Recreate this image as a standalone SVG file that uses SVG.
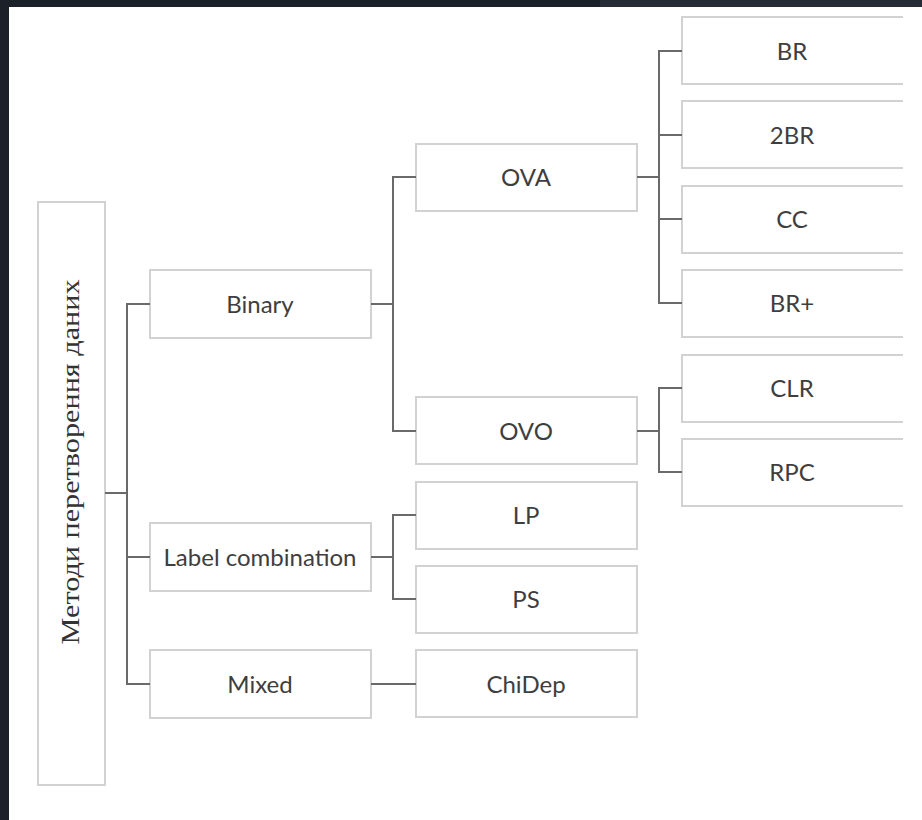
<svg xmlns="http://www.w3.org/2000/svg" width="922" height="820" viewBox="0 0 922 820">
<style>
.bx{fill:#fff;stroke:#d2d2d2;stroke-width:2}
.t{font-family:Lato,"Open Sans","Liberation Sans",sans-serif;font-size:24px;fill:#3e3e3e;text-anchor:middle;dominant-baseline:central}
.c{fill:none;stroke:#6a6a6a;stroke-width:2}
</style>
<rect x="0" y="0" width="922" height="820" fill="#1c2029"/>
<rect x="600" y="0" width="322" height="8" fill="#272b35"/>
<rect x="9" y="7" width="913" height="813" fill="#fff"/>
<g id="root"><rect class="bx" x="38" y="202" width="67" height="583"/>
<text x="0" y="0" transform="translate(79,462) rotate(-90)" font-family="'Liberation Serif','DejaVu Serif',serif" font-size="26" fill="#333" text-anchor="middle" textLength="365" lengthAdjust="spacingAndGlyphs">Методи перетворення даних</text></g>
<g id="binary"><rect class="bx" x="150" y="270" width="221" height="68"/><text class="t" x="260" y="303">Binary</text></g>
<g id="labelcomb"><rect class="bx" x="150" y="523" width="221" height="68"/><text class="t" x="260" y="556">Label combination</text></g>
<g id="mixed"><rect class="bx" x="150" y="650" width="221" height="68"/><text class="t" x="260" y="683">Mixed</text></g>
<g id="ova"><rect class="bx" x="416" y="144" width="221" height="67"/><text class="t" x="526" y="176">OVA</text></g>
<g id="ovo"><rect class="bx" x="416" y="397" width="221" height="67"/><text class="t" x="526" y="430">OVO</text></g>
<g id="lp"><rect class="bx" x="416" y="482" width="221" height="67"/><text class="t" x="526" y="514">LP</text></g>
<g id="ps"><rect class="bx" x="416" y="566" width="221" height="67"/><text class="t" x="526" y="598">PS</text></g>
<g id="chidep"><rect class="bx" x="416" y="650" width="221" height="67"/><text class="t" x="526" y="683">ChiDep</text></g>
<g id="br"><path class="bx" d="M903,17H682V84H903"/><text class="t" x="792" y="50">BR</text></g>
<g id="twobr"><path class="bx" d="M903,101H682V168H903"/><text class="t" x="792" y="134">2BR</text></g>
<g id="cc"><path class="bx" d="M903,186H682V253H903"/><text class="t" x="792" y="218">CC</text></g>
<g id="brplus"><path class="bx" d="M903,270H682V337H903"/><text class="t" x="792" y="302">BR+</text></g>
<g id="clr"><path class="bx" d="M903,355H682V422H903"/><text class="t" x="792" y="387">CLR</text></g>
<g id="rpc"><path class="bx" d="M903,439H682V506H903"/><text class="t" x="792" y="471">RPC</text></g>
<g id="connectors">
<path class="c" d="M105,493H127M150,304H127V684H150M127,557H150"/>
<path class="c" d="M371,304H393M416,177H393V431H416"/>
<path class="c" d="M637,177H659M682,51H659V303H682M659,135H682M659,219H682"/>
<path class="c" d="M637,431H659M682,388H659V472H682"/>
<path class="c" d="M371,557H393M416,515H393V599H416"/>
<path class="c" d="M371,684H416"/>
</g>
</svg>
